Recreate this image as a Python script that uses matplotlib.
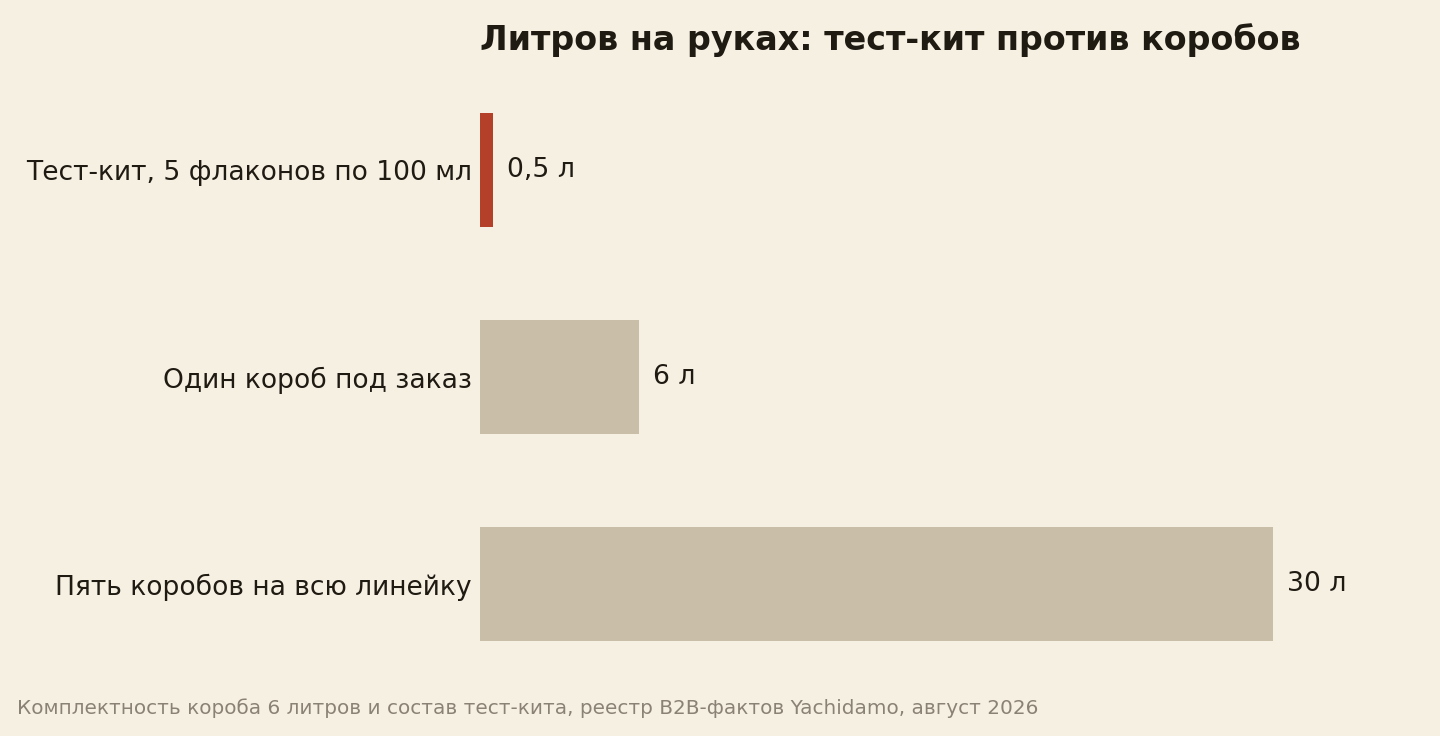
import matplotlib
matplotlib.use("Agg")
import matplotlib.pyplot as plt

# данные
categories = ["Тест-кит, 5 флаконов по 100 мл", "Один короб под заказ", "Пять коробов на всю линейку"]
litres = [0.5, 6, 30]
value_labels = ["0,5 л", "6 л", "30 л"]
bar_colors = ["#B5402A", "#C9BFA8", "#C9BFA8"]

bg = "#F6F0E3"
ink = "#1F1A12"

plt.rcParams['font.family'] = ['DejaVu Sans']

fig = plt.figure(figsize=(14.4, 7.36), dpi=100, facecolor=bg)
ax = fig.add_axes([480/1440, 48.5/736, 920/1440, 621/736])
ax.set_facecolor(bg)

y = list(range(len(categories)))
ax.barh(y, litres, height=0.55, color=bar_colors)
ax.set_ylim(2.5, -0.5)
ax.set_xlim(0, 920/26.43)

# подписи значений справа от столбиков
for yi, v, lab in zip(y, litres, value_labels):
    ax.text(v + 0.53, yi + 0.002, lab, va="center", ha="left", fontsize=19.2, color=ink)

ax.set_yticks(y)
ax.set_yticklabels(categories, fontsize=19.1, color=ink)
ax.tick_params(axis="y", length=0, pad=5.8)
ax.set_xticks([])
for s in ax.spines.values():
    s.set_visible(False)

fig.text(480/1440, 1 - 40/736, "Литров на руках: тест-кит против коробов",
         fontsize=24, fontweight="bold", color=ink, ha="left", va="center")
fig.text(17/1440, 1 - 708/736,
         "Комплектность короба 6 литров и состав тест-кита, реестр B2B-фактов Yachidamo, август 2026",
         fontsize=14.4, color="#8A8275", ha="left", va="center")

fig.savefig("out.png", dpi=100, facecolor=bg)
